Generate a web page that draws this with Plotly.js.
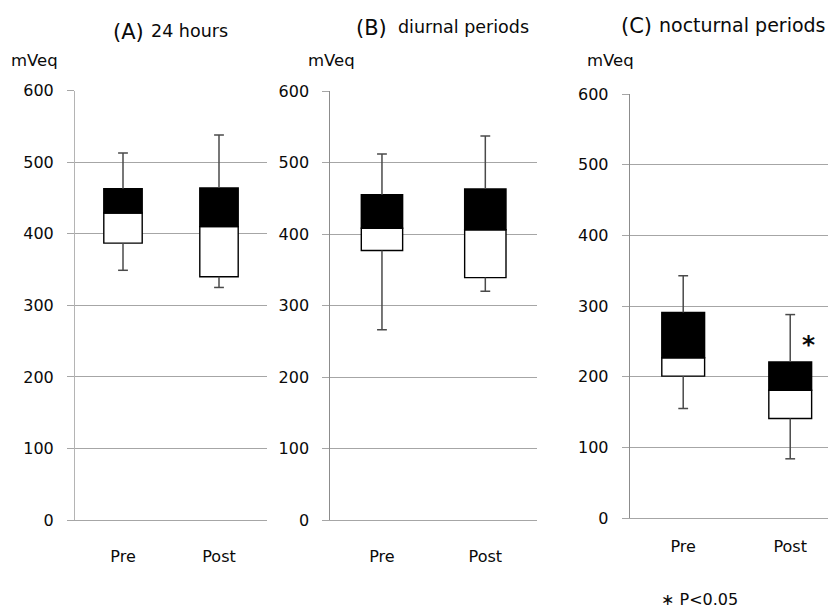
<!DOCTYPE html>
<html>
<head>
<meta charset="utf-8">
<script src="https://cdn.plot.ly/plotly-3.0.1.min.js"></script>
<style>html,body{margin:0;padding:0;background:#fff;}#chart{width:828px;height:610px;}</style>
</head>
<body>
<div id="chart"></div>
<script>
// Categories
const cats = ['Pre', 'Post'];
const yTicks = [0, 100, 200, 300, 400, 500, 600];

// (A) 24 hours
const aMax = [513, 538];
const aQ3  = [463, 464];
const aMed = [429, 410];
const aQ1  = [387, 340];
const aMin = [349, 325];

// (B) diurnal periods
const bMax = [512, 537];
const bQ3  = [455, 463];
const bMed = [408, 406];
const bQ1  = [377, 339];
const bMin = [266, 320];

// (C) nocturnal periods
const cMax = [343, 288];
const cQ3  = [291, 221];
const cMed = [227, 181];
const cQ1  = [201, 141];
const cMin = [155, 84];

const W = 828, H = 610;
const FONT = 'DejaVu Sans, sans-serif';
const TXT = '#0a0a0a';
const sub = (a, b) => a.map((v, i) => v - b[i]);

function panelTraces(mx, q3, md, q1, mn, xa, ya) {
  const common = {xaxis: xa, yaxis: ya, hoverinfo: 'skip', showlegend: false};
  // whisker segments (q3 -> max, q1 -> min), separated by gaps
  const wx = [], wy = [];
  cats.forEach((c, i) => {
    wx.push(c, c, null, c, c, null);
    wy.push(q3[i], mx[i], null, q1[i], mn[i], null);
  });
  return [
    Object.assign({type: 'bar', x: cats, y: sub(md, q1), base: q1, width: 0.4,
      marker: {color: '#ffffff', line: {color: '#000000', width: 1.4}}}, common),
    Object.assign({type: 'bar', x: cats, y: sub(q3, md), base: md, width: 0.4,
      marker: {color: '#000000', line: {color: '#000000', width: 1.4}}}, common),
    Object.assign({type: 'scatter', mode: 'lines', x: wx, y: wy, connectgaps: false,
      line: {color: '#4a4a4a', width: 1.5}}, common),
    Object.assign({type: 'scatter', mode: 'markers', x: cats.concat(cats), y: mx.concat(mn),
      marker: {symbol: 'line-ew-open', size: 7, color: '#4a4a4a', line: {color: '#4a4a4a', width: 1.5}}}, common)
  ];
}

const traces = [].concat(
  panelTraces(aMax, aQ3, aMed, aQ1, aMin, 'x', 'y'),
  panelTraces(bMax, bQ3, bMed, bQ1, bMin, 'x2', 'y2'),
  panelTraces(cMax, cQ3, cMed, cQ1, cMin, 'x3', 'y3')
);

function xAxis(l, r, range, anchor, standoff) {
  return {domain: [l / W, r / W], range: range, anchor: anchor, type: 'category',
    categoryorder: 'array', categoryarray: cats,
    showgrid: false, zeroline: false, showline: true, linecolor: '#a6a6a6', linewidth: 1,
    ticks: '', ticklabelstandoff: standoff, fixedrange: true,
    tickfont: {family: FONT, size: 16, color: TXT}};
}
function yAxis(top, bottom, anchor, lineColor) {
  return {domain: [1 - bottom / H, 1 - top / H], range: [0, 600], anchor: anchor,
    tickvals: yTicks, ticktext: yTicks.map(String),
    showgrid: true, gridcolor: '#a6a6a6', gridwidth: 1, zeroline: false,
    showline: true, linecolor: lineColor, linewidth: 1,
    ticks: 'outside', ticklen: 7, tickcolor: '#a6a6a6', ticklabelstandoff: 10,
    fixedrange: true, tickfont: {family: FONT, size: 16, color: TXT}};
}

function txt(text, x, y, size, xanchor) {
  return {text: text, xref: 'paper', yref: 'paper', x: x / W, y: 1 - y / H,
    xanchor: xanchor || 'left', yanchor: 'middle', showarrow: false,
    font: {family: FONT, size: size, color: TXT}};
}

const layout = {
  width: W, height: H, margin: {l: 0, r: 0, t: 0, b: 0},
  paper_bgcolor: '#ffffff', plot_bgcolor: '#ffffff',
  barmode: 'overlay', showlegend: false,
  xaxis:  xAxis(75, 267, [-0.5, 1.5], 'y', 22),
  yaxis:  yAxis(90.7, 520, 'x', '#b4b4b4'),
  xaxis2: xAxis(330.3, 537, [-0.5, 1.5], 'y2', 22),
  yaxis2: yAxis(91, 520, 'x2', '#8c8c8c'),
  xaxis3: xAxis(629.7, 828, [-0.5, 1.353], 'y3', 14),
  yaxis3: yAxis(94, 518.2, 'x3', '#8c8c8c'),
  annotations: [
    txt('(A)', 111, 32, 21),
    txt('24 hours', 149, 31, 17.5),
    txt('(B)', 354, 28, 21),
    txt('diurnal periods', 396, 27, 17.5),
    txt('(C)', 619, 26, 21),
    txt('nocturnal periods', 657, 25, 19),
    txt('mVeq', 9, 61, 16.5),
    txt('mVeq', 306, 61, 16.5),
    txt('mVeq', 585, 61, 16.5),
    {text: '<b>*</b>', xref: 'x3', yref: 'y3', x: 1.17, y: 246, xanchor: 'center', yanchor: 'middle',
      showarrow: false, font: {family: FONT, size: 25, color: TXT}},
    txt('\u2217 P<0.05', 659, 599, 16)
  ]
};

Plotly.newPlot('chart', traces, layout, {staticPlot: true, displayModeBar: false});
</script>
</body>
</html>
